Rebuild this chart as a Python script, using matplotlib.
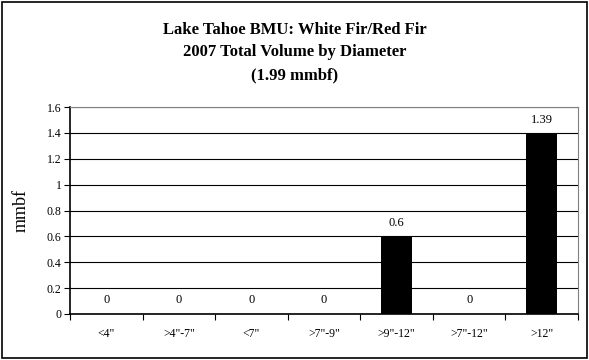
import numpy as np
import matplotlib.pyplot as plt
from matplotlib.patches import Rectangle

categories = ['<4"', '>4"-7"', '<7"', '>7"-9"', '>9"-12"', '>7"-12"', '>12"']
volume = [0, 0, 0, 0, 0.6, 0, 1.39]
value_labels = ['0', '0', '0', '0', '0.6', '0', '1.39']
yticks = [0, 0.2, 0.4, 0.6, 0.8, 1, 1.2, 1.4, 1.6]
ytick_labels = ['0', '0.2', '0.4', '0.6', '0.8', '1', '1.2', '1.4', '1.6']

plt.rcParams['font.family'] = ['Liberation Serif', 'DejaVu Serif']

W, H = 589, 360
fig = plt.figure(figsize=(W / 100, H / 100), dpi=100)
ax = fig.add_axes([70 / W, 1 - 314 / H, (578 - 70) / W, (314 - 107) / H])

x = np.arange(len(categories))
ax.bar(x, volume, width=0.42, color='black', zorder=3)
for xi, v, lab in zip(x, volume, value_labels):
    ax.text(xi, v + 0.06, lab, ha='center', va='bottom', fontsize=9, zorder=4)

ax.set_xlim(-0.5, len(categories) - 0.5)
ax.set_ylim(0, 1.6)
ax.set_yticks(yticks)
ax.set_yticklabels(ytick_labels, fontsize=8.5)
ax.yaxis.grid(True, color='black', linewidth=0.8)
ax.set_axisbelow(True)

# x ticks between categories, labels centred
ax.set_xticks(np.arange(len(categories) + 1) - 0.5)
ax.set_xticklabels([])
ax.set_xticks(x, minor=True)
ax.set_xticklabels(categories, minor=True, fontsize=8.5)
ax.tick_params(axis='x', which='minor', length=0, pad=10)
ax.tick_params(axis='x', which='major', length=4, direction='out', color='black')
ax.tick_params(axis='y', length=4, direction='out', pad=2)

for s in ['top', 'right']:
    ax.spines[s].set_color('#808080')
    ax.spines[s].set_linewidth(0.8)
for s in ['left', 'bottom']:
    ax.spines[s].set_color('black')
    ax.spines[s].set_linewidth(1.2)

ax.set_ylabel('mmbf', fontsize=13, labelpad=12)

title_lines = ['Lake Tahoe BMU: White Fir/Red Fir', '2007 Total Volume by Diameter', '(1.99 mmbf)']
for y_px, line in zip([30, 52, 75], title_lines):
    fig.text(0.5, 1 - y_px / H, line, ha='center', va='center',
             fontsize=12, fontweight='bold')

fig.patches.append(Rectangle((2 / W, 2 / H), (587 - 2) / W, (358 - 2) / H,
                             transform=fig.transFigure, fill=False,
                             edgecolor='black', linewidth=1.2))

fig.savefig('out.png', dpi=100)
